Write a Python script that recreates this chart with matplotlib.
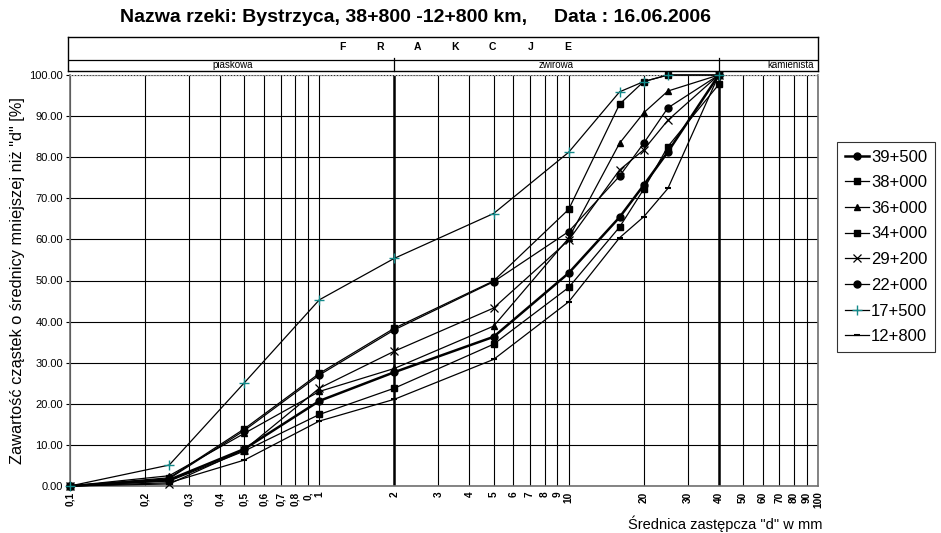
import math
import matplotlib
matplotlib.use('Agg')
import matplotlib.pyplot as plt
from matplotlib.ticker import NullLocator, FixedLocator

plt.rcParams['font.family'] = ['Liberation Sans', 'DejaVu Sans']

# ---------------- data ----------------
sizes = [0.1, 0.25, 0.5, 1, 2, 5, 10, 16, 20, 25, 40]

names = ["39+500", "38+000", "36+000", "34+000", "29+200", "22+000", "17+500", "12+800"]
s39_500 = [0, 1.5, 9.0, 20.7, 27.7, 36.3, 51.8, 65.4, 73.2, 81.3, 100]
s38_000 = [0, 1.2, 8.5, 17.4, 23.8, 34.5, 48.3, 63.0, 72.2, 82.6, 97.7]
s36_000 = [0, 2.5, 12.8, 23.0, 28.6, 38.9, 60.3, 83.4, 90.8, 96.1, 100]
s34_000 = [0, 2.0, 13.9, 27.4, 38.4, 49.9, 67.3, 92.9, 98.4, 100, 100]
s29_200 = [0, 0.5, 8.8, 23.8, 32.8, 43.3, 59.8, 76.9, 81.8, 89.0, 100]
s22_000 = [0, 1.8, 13.5, 27.0, 38.0, 49.7, 61.9, 75.4, 83.4, 92.0, 100]
s17_500 = [0, 5.1, 25.1, 45.3, 55.4, 66.3, 81.2, 95.9, 98.4, 100, 100]
s12_800 = [0, 0.8, 6.3, 15.8, 21.1, 30.8, 44.8, 60.4, 65.5, 72.4, 100]
values = [s39_500, s38_000, s36_000, s34_000, s29_200, s22_000, s17_500, s12_800]

x_ticks = [0.1, 0.2, 0.3, 0.4, 0.5, 0.6, 0.7, 0.8, 0.9, 1, 2, 3, 4, 5, 6, 7, 8, 9, 10,
           20, 30, 40, 50, 60, 70, 80, 90, 100]
x_tick_labels = ["0,1", "0,2", "0,3", "0,4", "0,5", "0,6", "0,7", "0,8", "0,", "1",
                 "2", "3", "4", "5", "6", "7", "8", "9", "10",
                 "20", "30", "40", "50", "60", "70", "80", "90", "100"]
y_ticks = [0, 10, 20, 30, 40, 50, 60, 70, 80, 90, 100]

fractions = ["piaskowa", "żwirowa", "kamienista"]
fraction_bounds = [2, 40]
header_word = "FRAKCJE"

title = 'Nazwa rzeki: Bystrzyca, 38+800 -12+800 km,     Data : 16.06.2006'
ylabel = 'Zawartość cząstek o średnicy mniejszej niż "d" [%]'
xlabel = 'Średnica zastępcza "d" w mm'

# ---------------- styles ----------------
teal = '#138a8a'
styles = [
    dict(marker='o', ms=5, lw=1.8, color='black', mfc='black', mec='black'),
    dict(marker='s', ms=5, lw=0.9, color='black', mfc='black', mec='black'),
    dict(marker='^', ms=5, lw=0.9, color='black', mfc='black', mec='black'),
    dict(marker='s', ms=5, lw=0.9, color='black', mfc='black', mec='black'),
    dict(marker='x', ms=6, lw=0.9, color='black', mfc='black', mec='black', mew=0.9),
    dict(marker='o', ms=5, lw=0.9, color='black', mfc='black', mec='black'),
    dict(marker='+', ms=7, lw=0.9, color='black', mfc=teal, mec=teal, mew=1.0),
    dict(marker='_', ms=4, lw=0.9, color='black', mfc='black', mec='black', mew=1.5),
]

W, H = 941, 533
fig = plt.figure(figsize=(W / 100, H / 100), dpi=100)
L, R, T, B = 70, 818, 75, 486
ax = fig.add_axes([L / W, 1 - B / H, (R - L) / W, (B - T) / H])

ax.set_xscale('log')
ax.set_xlim(0.1, 100)
ax.set_ylim(0, 100)

# grid
ax.xaxis.set_major_locator(FixedLocator(x_ticks))
ax.xaxis.set_minor_locator(NullLocator())
ax.set_xticklabels(x_tick_labels, rotation=90, fontsize=7.3, fontweight='bold')
ax.set_yticks(y_ticks)
ax.set_yticklabels(['%.2f' % v for v in y_ticks], fontsize=8)
ax.grid(True, which='major', color='black', lw=0.8)
for xb in fraction_bounds:
    ax.axvline(xb, color='black', lw=1.8, zorder=1)
ax.set_axisbelow(True)
ax.tick_params(axis='x', length=0, pad=4)
ax.tick_params(axis='y', length=3, width=0.8, direction='out', pad=2)

for side in ['left', 'bottom', 'right']:
    ax.spines[side].set_color('#707070')
    ax.spines[side].set_linewidth(1.2)
ax.spines['top'].set_color('#b0b0b0')
ax.spines['top'].set_linestyle(':')

handles = []
for name, vals, st in zip(names, values, styles):
    h, = ax.plot(sizes, vals, label=name, zorder=5 + (3 if name == "17+500" else 0),
                 clip_on=False, **st)
    handles.append(h)

ax.set_ylabel(ylabel, fontsize=11.8, labelpad=3)
fig.text(822 / W, 1 - 524 / H, xlabel, ha='right', va='center', fontsize=10.5)
fig.text(415 / W, 1 - 18 / H, title, ha='center', va='center', fontsize=14,
         fontweight='bold')

leg = fig.legend(handles=handles, labels=names, loc='upper left',
                 bbox_to_anchor=(837 / W, 1 - 142 / H), fontsize=12,
                 frameon=True, fancybox=False, edgecolor='black',
                 handlelength=1.45, handletextpad=0.15, labelspacing=0.64,
                 borderpad=0.45, borderaxespad=0)
leg.get_frame().set_linewidth(0.8)

# ---------------- header (fractions) ----------------
hax = fig.add_axes([68 / W, 1 - 71 / H, (R - 68) / W, 34 / H])
hax.set_xscale('log')
dec = (R - L) / 3.0
hax.set_xlim(10 ** (-1 - (L - 68) / dec), 100)
hax.set_ylim(0, 1)
hax.set_xticks([])
hax.set_yticks([])
hax.xaxis.set_minor_locator(NullLocator())
for s in hax.spines.values():
    s.set_color('black')
    s.set_linewidth(1.0)
sep = 0.33
hax.axhline(sep, color='black', lw=0.9)
for xb in fraction_bounds:
    hax.plot([xb, xb], [0, sep + 0.06], color='black', lw=0.9, clip_on=False)
ty = 0.5 * sep + 0.02
hax.text(math.sqrt(0.1 * fraction_bounds[0]), ty, fractions[0],
         ha='center', va='center', fontsize=7)
hax.text(math.sqrt(fraction_bounds[0] * fraction_bounds[1]), ty,
         fractions[1], ha='center', va='center', fontsize=7)
hax.text(0.994, ty, fractions[2], ha='right', va='center',
         fontsize=7, transform=hax.transAxes)
letter_x0 = (342 - 68) / (R - 68)
letter_dx = 37.7 / (R - 68)
for k, ch in enumerate(header_word):
    hax.text(letter_x0 + k * letter_dx, 0.72, ch, ha='center', va='center',
             fontsize=7.5, fontweight='bold', transform=hax.transAxes)

fig.savefig('out.png', dpi=100)
